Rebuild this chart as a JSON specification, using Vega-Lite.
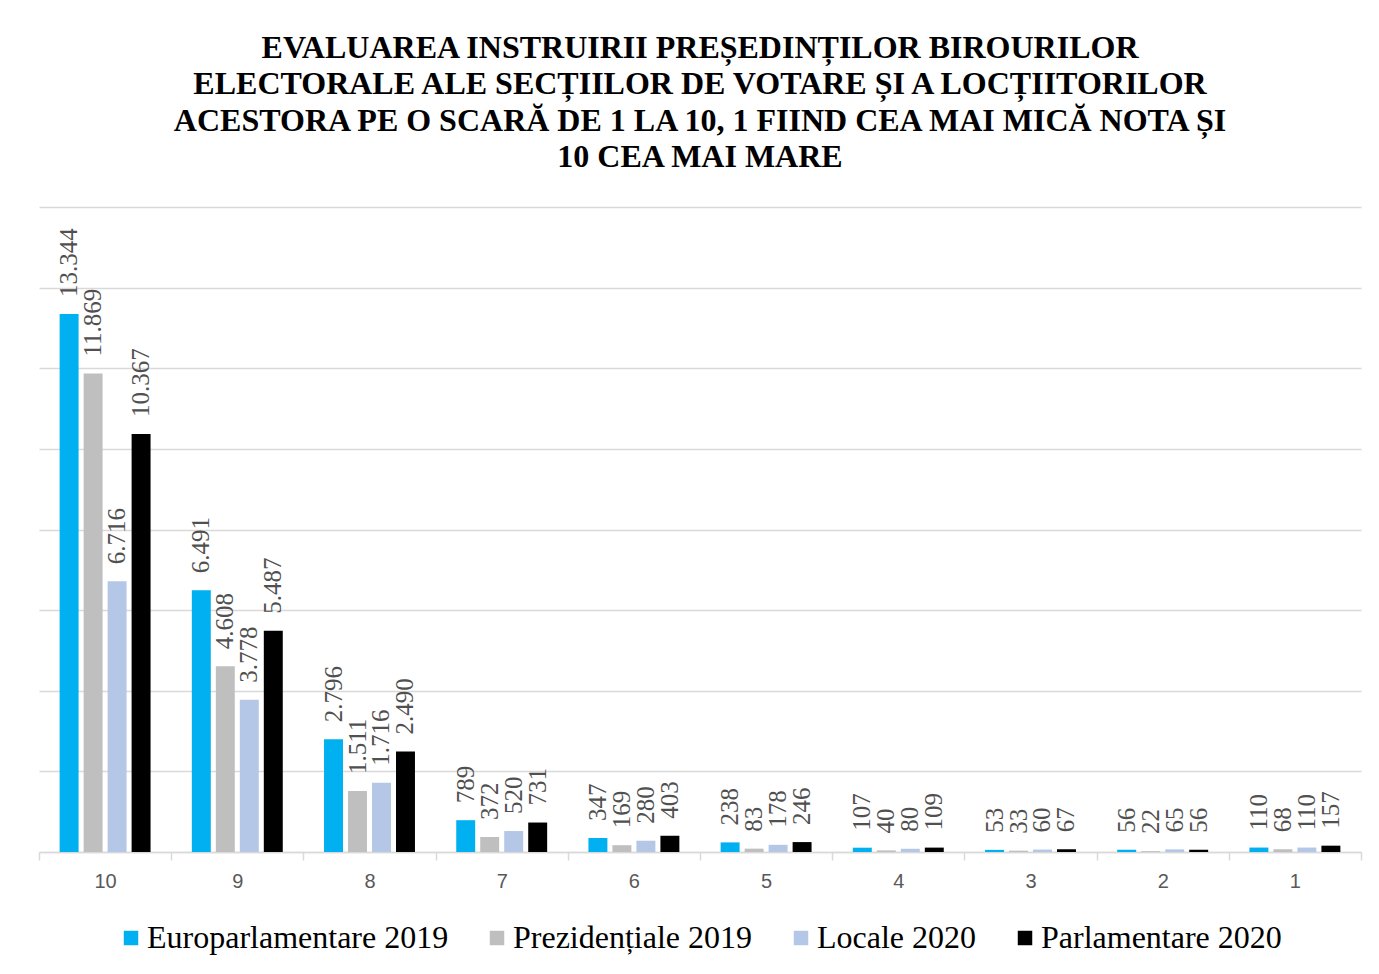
{
  "$schema": "https://vega.github.io/schema/vega-lite/v6.json",
  "width": 1322,
  "height": 645,
  "autosize": {"type": "pad"},
  "padding": {"left": 38, "top": 31, "right": 19, "bottom": 5},
  "background": "white",
  "title": {
    "text": [
      "EVALUAREA INSTRUIRII PREȘEDINȚILOR BIROURILOR",
      "ELECTORALE ALE SECȚIILOR DE VOTARE ȘI A LOCȚIITORILOR",
      "ACESTORA PE O SCARĂ DE 1 LA 10, 1 FIIND CEA MAI MICĂ NOTA ȘI",
      "10 CEA MAI MARE"
    ],
    "font": "Liberation Serif",
    "fontSize": 32,
    "fontWeight": "bold",
    "color": "#000000",
    "lineHeight": 36.5,
    "anchor": "middle",
    "offset": 33
  },
  "data": {
    "values": [
      {"nota": "10", "serie": "Europarlamentare 2019", "valoare": 13344},
      {"nota": "10", "serie": "Prezidențiale 2019", "valoare": 11869},
      {"nota": "10", "serie": "Locale 2020", "valoare": 6716},
      {"nota": "10", "serie": "Parlamentare 2020", "valoare": 10367},
      {"nota": "9", "serie": "Europarlamentare 2019", "valoare": 6491},
      {"nota": "9", "serie": "Prezidențiale 2019", "valoare": 4608},
      {"nota": "9", "serie": "Locale 2020", "valoare": 3778},
      {"nota": "9", "serie": "Parlamentare 2020", "valoare": 5487},
      {"nota": "8", "serie": "Europarlamentare 2019", "valoare": 2796},
      {"nota": "8", "serie": "Prezidențiale 2019", "valoare": 1511},
      {"nota": "8", "serie": "Locale 2020", "valoare": 1716},
      {"nota": "8", "serie": "Parlamentare 2020", "valoare": 2490},
      {"nota": "7", "serie": "Europarlamentare 2019", "valoare": 789},
      {"nota": "7", "serie": "Prezidențiale 2019", "valoare": 372},
      {"nota": "7", "serie": "Locale 2020", "valoare": 520},
      {"nota": "7", "serie": "Parlamentare 2020", "valoare": 731},
      {"nota": "6", "serie": "Europarlamentare 2019", "valoare": 347},
      {"nota": "6", "serie": "Prezidențiale 2019", "valoare": 169},
      {"nota": "6", "serie": "Locale 2020", "valoare": 280},
      {"nota": "6", "serie": "Parlamentare 2020", "valoare": 403},
      {"nota": "5", "serie": "Europarlamentare 2019", "valoare": 238},
      {"nota": "5", "serie": "Prezidențiale 2019", "valoare": 83},
      {"nota": "5", "serie": "Locale 2020", "valoare": 178},
      {"nota": "5", "serie": "Parlamentare 2020", "valoare": 246},
      {"nota": "4", "serie": "Europarlamentare 2019", "valoare": 107},
      {"nota": "4", "serie": "Prezidențiale 2019", "valoare": 40},
      {"nota": "4", "serie": "Locale 2020", "valoare": 80},
      {"nota": "4", "serie": "Parlamentare 2020", "valoare": 109},
      {"nota": "3", "serie": "Europarlamentare 2019", "valoare": 53},
      {"nota": "3", "serie": "Prezidențiale 2019", "valoare": 33},
      {"nota": "3", "serie": "Locale 2020", "valoare": 60},
      {"nota": "3", "serie": "Parlamentare 2020", "valoare": 67},
      {"nota": "2", "serie": "Europarlamentare 2019", "valoare": 56},
      {"nota": "2", "serie": "Prezidențiale 2019", "valoare": 22},
      {"nota": "2", "serie": "Locale 2020", "valoare": 65},
      {"nota": "2", "serie": "Parlamentare 2020", "valoare": 56},
      {"nota": "1", "serie": "Europarlamentare 2019", "valoare": 110},
      {"nota": "1", "serie": "Prezidențiale 2019", "valoare": 68},
      {"nota": "1", "serie": "Locale 2020", "valoare": 110},
      {"nota": "1", "serie": "Parlamentare 2020", "valoare": 157}
    ]
  },
  "encoding": {
    "x": {
      "field": "nota",
      "type": "nominal",
      "sort": ["10", "9", "8", "7", "6", "5", "4", "3", "2", "1"],
      "scale": {"paddingInner": 0, "paddingOuter": 0},
      "axis": {
        "title": null,
        "labelAngle": 0,
        "labelFont": "Liberation Sans",
        "labelFontSize": 20,
        "labelColor": "#595959",
        "labelPadding": 11,
        "domainColor": "#d9d9d9",
        "domainWidth": 1.5,
        "tickColor": "#d9d9d9",
        "tickWidth": 1.5,
        "tickSize": 8,
        "tickBand": "extent",
        "grid": false
      }
    },
    "xOffset": {
      "field": "serie",
      "type": "nominal",
      "sort": ["Europarlamentare 2019", "Prezidențiale 2019", "Locale 2020", "Parlamentare 2020"],
      "scale": {"paddingInner": 0.21, "paddingOuter": 0.86}
    },
    "y": {
      "field": "valoare",
      "type": "quantitative",
      "scale": {"domain": [0, 16000], "nice": false},
      "axis": {
        "title": null,
        "labels": false,
        "ticks": false,
        "domain": false,
        "grid": true,
        "gridColor": "#d9d9d9",
        "gridWidth": 1.5,
        "values": [0, 2000, 4000, 6000, 8000, 10000, 12000, 14000, 16000]
      }
    }
  },
  "layer": [
    {
      "mark": {"type": "bar"},
      "encoding": {
        "color": {
          "field": "serie",
          "type": "nominal",
          "sort": ["Europarlamentare 2019", "Prezidențiale 2019", "Locale 2020", "Parlamentare 2020"],
          "scale": {
            "domain": ["Europarlamentare 2019", "Prezidențiale 2019", "Locale 2020", "Parlamentare 2020"],
            "range": ["#00B0F0", "#BFBFBF", "#B4C7E7", "#000000"]
          },
          "legend": {
            "title": null,
            "orient": "none",
            "legendX": 76,
            "legendY": 715,
            "direction": "horizontal",
            "symbolType": "square",
            "symbolSize": 210,
            "symbolStrokeWidth": 0,
            "labelFont": "Liberation Serif",
            "labelFontSize": 32,
            "labelColor": "#000000",
            "labelOffset": 0,
            "columnPadding": 32,
            "labelLimit": 400
          }
        }
      }
    },
    {
      "mark": {
        "type": "text",
        "angle": 270,
        "align": "left",
        "baseline": "middle",
        "dx": 17,
        "font": "Liberation Serif",
        "fontSize": 25,
        "color": "#505050"
      },
      "encoding": {
        "text": {"field": "valoare", "type": "quantitative", "format": ",d"}
      }
    }
  ],
  "config": {
    "locale": {
      "number": {
        "decimal": ",",
        "thousands": ".",
        "grouping": [3],
        "currency": ["", " lei"]
      }
    },
    "view": {"stroke": null}
  }
}
